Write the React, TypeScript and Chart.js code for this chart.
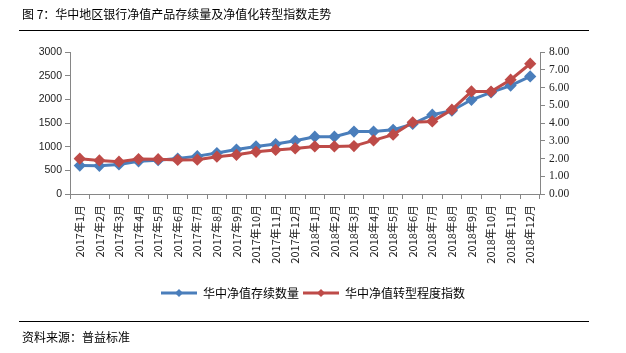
import React, { useEffect, useRef } from "react";
import { Chart, registerables } from "chart.js";

Chart.register(...registerables);

const categories = [
  "2017年1月", "2017年2月", "2017年3月", "2017年4月", "2017年5月", "2017年6月",
  "2017年7月", "2017年8月", "2017年9月", "2017年10月", "2017年11月", "2017年12月",
  "2018年1月", "2018年2月", "2018年3月", "2018年4月", "2018年5月", "2018年6月",
  "2018年7月", "2018年8月", "2018年9月", "2018年10月", "2018年11月", "2018年12月",
];

const stockCount = [
  600, 595, 625, 690, 715, 750, 800, 865, 940, 1005, 1055, 1125,
  1210, 1210, 1320, 1320, 1355, 1480, 1675, 1760, 1990, 2145, 2290, 2485,
];

const transformIndex = [
  1.99, 1.89, 1.82, 1.97, 1.96, 1.92, 1.93, 2.1, 2.21, 2.38, 2.48, 2.57,
  2.68, 2.68, 2.7, 3.02, 3.34, 4.04, 4.09, 4.75, 5.78, 5.77, 6.44, 7.34,
];

const seriesNames = ["华中净值存续数量", "华中净值转型程度指数"];
const seriesColors = ["#4A7EBB", "#BE4B48"];

const titleText = "图 7：华中地区银行净值产品存续量及净值化转型指数走势";
const sourceText = "资料来源：普益标准";

const CJK = '"Noto Sans CJK SC", "Noto Sans", sans-serif';

function legendImage(color: string): HTMLCanvasElement {
  const c = document.createElement("canvas");
  c.width = 36;
  c.height = 10;
  const ctx = c.getContext("2d")!;
  ctx.strokeStyle = color;
  ctx.lineWidth = 3;
  ctx.beginPath();
  ctx.moveTo(0, 5);
  ctx.lineTo(36, 5);
  ctx.stroke();
  ctx.fillStyle = color;
  ctx.beginPath();
  ctx.moveTo(18, 1);
  ctx.lineTo(22, 5);
  ctx.lineTo(18, 9);
  ctx.lineTo(14, 5);
  ctx.closePath();
  ctx.fill();
  return c;
}

export default function App() {
  const ref = useRef<HTMLCanvasElement>(null);

  useEffect(() => {
    if (!ref.current) return;
    const imgs = seriesColors.map(legendImage);
    const axisColor = "#868686";
    const chart = new Chart(ref.current, {
      type: "line",
      data: {
        labels: categories,
        datasets: [
          {
            label: seriesNames[0],
            data: stockCount,
            yAxisID: "y",
            borderColor: seriesColors[0],
            backgroundColor: seriesColors[0],
            borderWidth: 3,
            pointStyle: "rectRot",
            pointRadius: 4,
            order: 1,
          },
          {
            label: seriesNames[1],
            data: transformIndex,
            yAxisID: "y1",
            borderColor: seriesColors[1],
            backgroundColor: seriesColors[1],
            borderWidth: 3,
            pointStyle: "rectRot",
            pointRadius: 4,
            order: 0,
          },
        ],
      },
      options: {
        animation: false,
        responsive: false,
        maintainAspectRatio: false,
        layout: { padding: { top: 52, left: 0, right: 0, bottom: 44 } },
        plugins: {
          tooltip: { enabled: false },
          legend: {
            position: "bottom",
            labels: {
              usePointStyle: true,
              pointStyleWidth: 36,
              padding: 4,
              color: "#000",
              font: { family: CJK, size: 12 },
              generateLabels: () =>
                seriesNames.map((n, i) => ({
                  text: n,
                  fillStyle: seriesColors[i],
                  strokeStyle: seriesColors[i],
                  lineWidth: 0,
                  pointStyle: imgs[i],
                  hidden: false,
                  datasetIndex: i,
                })),
            },
          },
        },
        scales: {
          x: {
            type: "category",
            offset: true,
            grid: {
              display: true,
              drawOnChartArea: false,
              drawTicks: true,
              tickLength: 5,
              offset: true,
              color: axisColor,
            },
            border: { color: axisColor },
            ticks: {
              autoSkip: false,
              minRotation: 90,
              maxRotation: 90,
              padding: 6,
              color: "#222",
              font: { family: CJK, size: 11 },
            },
            afterFit: (s: any) => {
              s.height = 89;
            },
          },
          y: {
            position: "left",
            min: 0,
            max: 3000,
            grid: {
              drawOnChartArea: false,
              drawTicks: true,
              tickLength: 5,
              color: axisColor,
            },
            border: { color: axisColor },
            ticks: {
              stepSize: 500,
              padding: 3,
              color: "#222",
              font: { family: '"Liberation Sans", Arial, sans-serif', size: 10.5 },
              callback: (v: any) => String(v),
            },
            afterFit: (s: any) => {
              s.width = 70;
            },
          },
          y1: {
            position: "right",
            min: 0,
            max: 8,
            grid: {
              drawOnChartArea: false,
              drawTicks: true,
              tickLength: 5,
              color: axisColor,
            },
            border: { color: axisColor },
            ticks: {
              stepSize: 1,
              padding: 4,
              color: "#222",
              font: { family: '"Liberation Serif", "Times New Roman", serif', size: 11.5 },
              callback: (v: any) => Number(v).toFixed(2),
            },
            afterFit: (s: any) => {
              s.width = 86;
            },
          },
        },
      },
    });
    return () => chart.destroy();
  }, []);

  return (
    <div style={{ position: "absolute", left: 0, top: 0, width: 626, height: 353, background: "#fff" }}>
      <canvas ref={ref} width={626} height={353} style={{ position: "absolute", left: 0, top: 0, width: 626, height: 353 }} />
      <div
        style={{
          position: "absolute",
          left: 22,
          top: 6,
          fontFamily: CJK,
          fontSize: 12,
          lineHeight: "16px",
          color: "#000",
          whiteSpace: "nowrap",
        }}
      >
        {titleText}
      </div>
      <div style={{ position: "absolute", left: 19, top: 30, width: 570, height: 1, background: "#000" }} />
      <div style={{ position: "absolute", left: 19, top: 321, width: 570, height: 1, background: "#000" }} />
      <div
        style={{
          position: "absolute",
          left: 22,
          top: 329,
          fontFamily: CJK,
          fontSize: 12,
          lineHeight: "16px",
          color: "#000",
          whiteSpace: "nowrap",
        }}
      >
        {sourceText}
      </div>
    </div>
  );
}
